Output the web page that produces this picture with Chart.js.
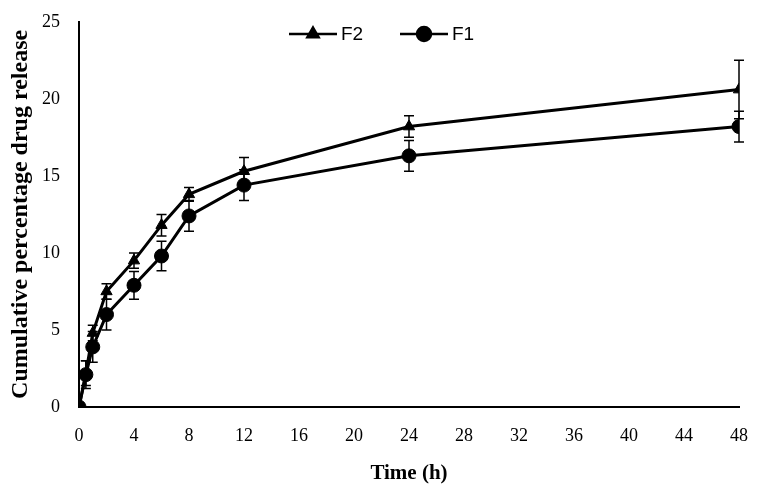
<!DOCTYPE html>
<html>
  <head>
    <title>Cumulative drug release</title>
    <script src="https://cdn.jsdelivr.net/npm/chart.js@4.4.1/dist/chart.umd.min.js"></script>
    <style>
      body { margin: 0; background: #fff; }
      #wrap { width: 759px; height: 484px; }
    </style>
  </head>
  <body>
    <div id="wrap"><canvas id="releaseChart"></canvas></div>

    <script>
      // Data
      const times = [0, 0.5, 1, 2, 4, 6, 8, 12, 24, 48];
      const f2Values = [0, 2.2, 4.8, 7.5, 9.5, 11.8, 13.8, 15.3, 18.2, 20.6];
      const f2Errors = [0, 0.8, 0.5, 0.5, 0.5, 0.7, 0.45, 0.9, 0.7, 1.9];
      const f1Values = [0, 2.1, 3.9, 6.0, 7.9, 9.8, 12.4, 14.4, 16.3, 18.2];
      const f1Errors = [0, 0.9, 1.0, 1.0, 0.9, 0.95, 1.0, 1.0, 1.0, 1.0];
      const xTicks = [0, 48, 4];   // min, max, step
      const yTicks = [0, 25, 5];

      const serif = "'Liberation Serif', 'Times New Roman', serif";

      // error bars, drawn under the markers
      const errorBars = {
        id: "errorBars",
        beforeDatasetsDraw(chart) {
          const ctx = chart.ctx;
          const xs = chart.scales.x, ys = chart.scales.y;
          ctx.save();
          ctx.strokeStyle = "#000";
          ctx.lineWidth = 1.5;
          chart.data.datasets.forEach((ds) => {
            ds.data.forEach((p, i) => {
              const err = ds.errors[i];
              if (!err) return;
              const x = xs.getPixelForValue(p.x);
              const yt = ys.getPixelForValue(p.y + err);
              const yb = ys.getPixelForValue(p.y - err);
              ctx.beginPath();
              ctx.moveTo(x, yt); ctx.lineTo(x, yb);
              ctx.moveTo(x - 5, yt); ctx.lineTo(x + 5, yt);
              ctx.moveTo(x - 5, yb); ctx.lineTo(x + 5, yb);
              ctx.stroke();
            });
          });
          ctx.restore();
        }
      };

      // legend inside the plot: line + marker + label
      const lineLegend = {
        id: "lineLegend",
        afterDraw(chart) {
          const ctx = chart.ctx;
          const starts = [289, 400];
          const y = 34;
          ctx.save();
          chart.data.datasets.forEach((ds, i) => {
            const x0 = starts[i];
            ctx.strokeStyle = "#000";
            ctx.lineWidth = 2.5;
            ctx.beginPath();
            ctx.moveTo(x0, y); ctx.lineTo(x0 + 48, y);
            ctx.stroke();
            ctx.fillStyle = "#000";
            Chart.helpers.drawPoint(ctx, {
              pointStyle: ds.pointStyle, radius: ds.pointRadius, borderWidth: 1
            }, x0 + 24, y);
            ctx.fillStyle = "#000";
            ctx.font = "19px 'Liberation Sans', Arial, sans-serif";
            ctx.textBaseline = "middle";
            ctx.fillText(ds.label, x0 + 52, y + 1);
          });
          ctx.restore();
        }
      };

      const toPoints = (vals) => vals.map((v, i) => ({ x: times[i], y: v }));

      new Chart(document.getElementById("releaseChart"), {
        type: "line",
        data: {
          datasets: [
            {
              label: "F2",
              data: toPoints(f2Values),
              errors: f2Errors,
              borderColor: "#000",
              backgroundColor: "#000",
              borderWidth: 3,
              pointStyle: "triangle",
              pointRadius: 6.5,
              pointBorderWidth: 1,
              tension: 0
            },
            {
              label: "F1",
              data: toPoints(f1Values),
              errors: f1Errors,
              borderColor: "#000",
              backgroundColor: "#000",
              borderWidth: 3,
              pointStyle: "circle",
              pointRadius: 7,
              pointBorderWidth: 1,
              tension: 0
            }
          ]
        },
        options: {
          responsive: true,
          maintainAspectRatio: false,
          animation: false,
          layout: { padding: { top: 20, right: 20, bottom: 0, left: 0 } },
          plugins: {
            legend: { display: false },
            tooltip: { enabled: false }
          },
          scales: {
            x: {
              type: "linear",
              min: xTicks[0],
              max: xTicks[1],
              grid: { display: false },
              border: { display: true, color: "#000", width: 2 },
              ticks: {
                stepSize: xTicks[2],
                color: "#000",
                padding: 10,
                font: { family: serif, size: 18 }
              },
              title: {
                display: true,
                text: "Time (h)",
                color: "#000",
                padding: { top: 4, bottom: -2 },
                font: { family: serif, size: 21, weight: "bold" }
              },
              afterFit(scale) { scale.height = 77; }
            },
            y: {
              min: yTicks[0],
              max: yTicks[1],
              grid: { display: false },
              border: { display: true, color: "#000", width: 2 },
              ticks: {
                stepSize: yTicks[2],
                color: "#000",
                padding: 11,
                font: { family: serif, size: 18 }
              },
              title: {
                display: true,
                text: "Cumulative percentage drug release",
                color: "#000",
                padding: { top: 6, bottom: 4 },
                font: { family: serif, size: 24, weight: "bold" }
              },
              afterFit(scale) { scale.width = 79; }
            }
          }
        },
        plugins: [errorBars, lineLegend]
      });
    </script>
  </body>
</html>
